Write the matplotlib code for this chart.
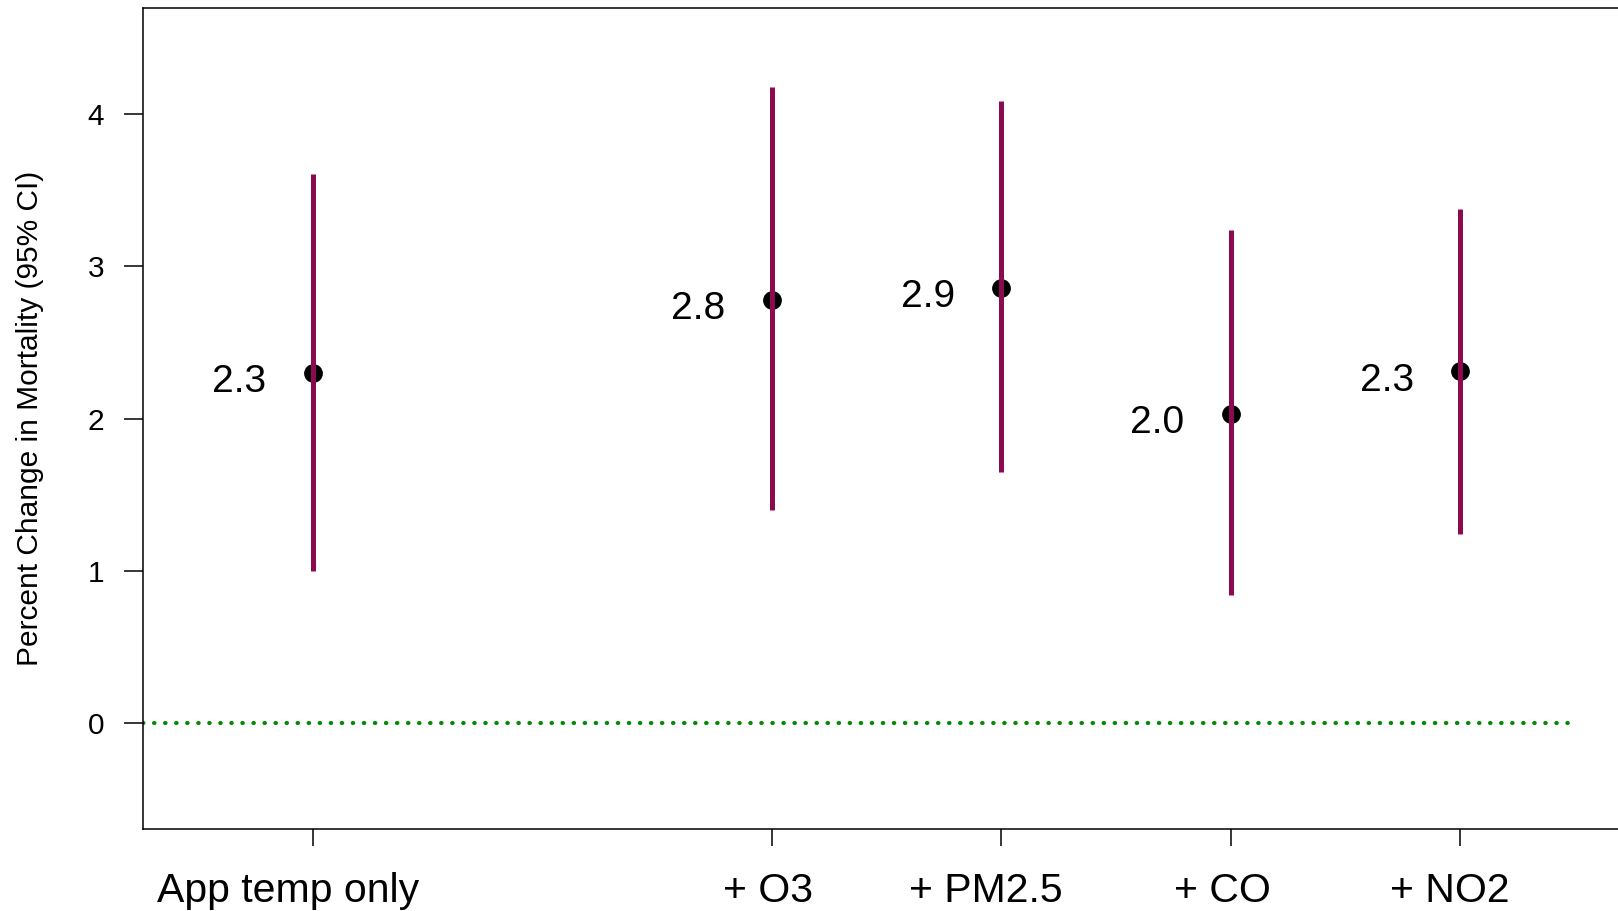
import matplotlib
matplotlib.use('Agg')
import matplotlib.pyplot as plt
from matplotlib.transforms import ScaledTranslation

# model labels and their x slots (gap after the first one)
models = ['App temp only', '+ O3', '+ PM2.5', '+ CO', '+ NO2']
xpos = [1, 3, 4, 5, 6]

# percent change in mortality with 95% CI
est = [2.30, 2.78, 2.86, 2.03, 2.31]
lower = [1.00, 1.40, 1.65, 0.84, 1.24]
upper = [3.61, 4.18, 4.09, 3.24, 3.38]
est_labels = ['2.3', '2.8', '2.9', '2.0', '2.3']

yticks = [0, 1, 2, 3, 4]

plt.rcParams['font.family'] = ['Liberation Sans', 'DejaVu Sans']

fig = plt.figure(figsize=(16.18, 9.11), dpi=100)
ax = fig.add_axes([0.0884, 0.090, 1.0074 - 0.0884, 0.9912 - 0.090])

ax.set_xlim(0.26, 6.74)
ax.set_ylim(-0.7, 4.7)

# reference line at zero
ax.plot([0.26, 6.5], [0, 0], color='#008B00', lw=3,
        linestyle=(0, (0.1, 2.55)), dash_capstyle='round', zorder=1)

# points, then CI lines on top (as in the original)
ax.plot(xpos, est, 'o', color='black', markersize=12.5, zorder=2)
ax.vlines(xpos, lower, upper, color='#8B0A50', lw=3.6, zorder=3)

for x, y, lab in zip(xpos, est, est_labels):
    ax.text(x - 0.32, y - 0.06, lab, ha='center', va='center', fontsize=28)

ax.set_xticks(xpos)
ax.set_xticklabels(models, fontsize=29.5)
ax.set_yticks(yticks)
ax.set_yticklabels([str(v) for v in yticks], fontsize=21.5)
ax.tick_params(axis='y', length=14, width=1.1, pad=14)
ax.tick_params(axis='x', length=12, width=1.1, pad=19)
ax.set_ylabel('Percent Change in Mortality (95% CI)', fontsize=21.5, labelpad=31)

# the original's category labels sit a little left of their ticks
for lbl, dx in zip(ax.get_xticklabels(), [-25, -4, -15, -8, -10]):
    lbl.set_transform(lbl.get_transform() + ScaledTranslation(dx / 100, 0, fig.dpi_scale_trans))

for s in ax.spines.values():
    s.set_linewidth(1.1)

fig.savefig('out.png', dpi=100)
